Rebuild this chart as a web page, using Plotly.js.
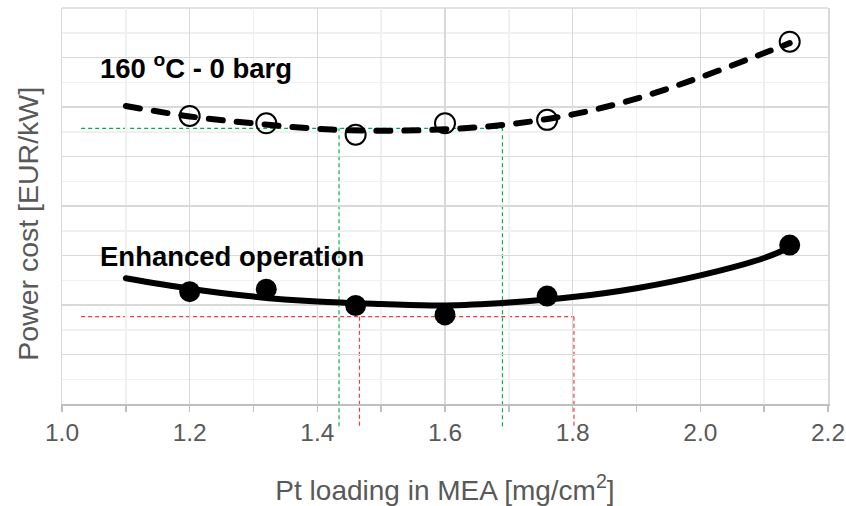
<!DOCTYPE html>
<html>
<head>
<meta charset="utf-8">
<script src="https://cdn.plot.ly/plotly-3.0.1.min.js"></script>
<style>
  html, body { margin: 0; padding: 0; background: #ffffff; }
  #chart { width: 846px; height: 506px; }
</style>
</head>
<body>
<div id="chart"></div>
<script>
// Measured cost points (Pt loading in mg/cm2, power cost in 100 EUR/kW)
const ptLoading    = [1.2, 1.32, 1.46, 1.6, 1.76, 2.14];
const cost160      = [5.82, 5.67, 5.44, 5.67, 5.74, 7.32];
const costEnhanced = [2.27, 2.32, 1.99, 1.80, 2.18, 3.21];

// Trend curves through the measured points
const trendLoading  = [1.1, 1.2, 1.3, 1.4, 1.5, 1.6, 1.7, 1.8, 1.9, 2.0, 2.1, 2.14];
const trend160      = [6.02, 5.81, 5.67, 5.56, 5.52, 5.55, 5.65, 5.85, 6.17, 6.60, 7.09, 7.29];
const trendEnhanced = [2.54, 2.33, 2.17, 2.07, 2.02, 1.99, 2.05, 2.16, 2.34, 2.60, 2.95, 3.16];

// Near-optimum windows: cost level and the loading range it spans
const greenLevel = 5.57;
const greenRange = [1.434, 1.69];
const redLevel   = 1.765;
const redRange   = [1.466, 1.802];
const guideStartX = 1.03;
const guideFloor  = -0.485;   // guides run down past the x axis

const seriesLabels = ['160 <sup>o</sup>C - 0 barg', 'Enhanced operation'];
const yTitle = 'Power cost [EUR/kW]';
const xTitle = 'Pt loading in MEA [mg/cm<sup>2</sup>]';

const yRange = [0, 8];
const toPaper = v => (v - yRange[0]) / (yRange[1] - yRange[0]);

const GREEN = '#00b050';
const RED = '#f03c3c';
const GRID = '#d9d9d9';
const guideLine = c => ({ color: c, width: 1.2, dash: '4px,3px' });

const shapes = [
  // top edge of the plotting area
  { type: 'line', xref: 'paper', yref: 'paper', x0: 0, x1: 1, y0: 1, y1: 1, line: { color: GRID, width: 1.5 }, layer: 'below' },
  { type: 'line', xref: 'x', yref: 'y', x0: guideStartX, x1: greenRange[1], y0: greenLevel, y1: greenLevel, line: guideLine(GREEN), layer: 'below' },
  { type: 'line', xref: 'x', yref: 'y', x0: guideStartX, x1: redRange[1], y0: redLevel, y1: redLevel, line: guideLine(RED), layer: 'below' }
];
greenRange.forEach(v => shapes.push({ type: 'line', xref: 'x', yref: 'paper', x0: v, x1: v,
  y0: toPaper(greenLevel), y1: toPaper(guideFloor), line: guideLine(GREEN), layer: 'below' }));
redRange.forEach(v => shapes.push({ type: 'line', xref: 'x', yref: 'paper', x0: v, x1: v,
  y0: toPaper(redLevel), y1: toPaper(guideFloor), line: guideLine(RED), layer: 'below' }));

const traces = [
  { x: ptLoading, y: cost160, mode: 'markers', type: 'scatter',
    marker: { symbol: 'circle-open', size: 20, color: '#000000', line: { width: 2, color: '#000000' } } },
  { x: ptLoading, y: costEnhanced, mode: 'markers', type: 'scatter',
    marker: { symbol: 'circle', size: 21, color: '#000000' } },
  { x: trendLoading, y: trend160, mode: 'lines', type: 'scatter',
    line: { color: '#000000', width: 6, dash: '14px,14px', shape: 'spline', smoothing: 1 } },
  { x: trendLoading, y: trendEnhanced, mode: 'lines', type: 'scatter',
    line: { color: '#000000', width: 6, shape: 'spline', smoothing: 1 } }
];

const labelFont = { family: 'Liberation Sans, Arial, sans-serif', size: 27.5, color: '#000000', weight: 700 };
const axisGray = '#595959';

const layout = {
  width: 846, height: 506,
  margin: { l: 62, r: 18, t: 8, b: 102 },
  paper_bgcolor: '#ffffff', plot_bgcolor: '#ffffff',
  showlegend: false,
  font: { family: 'Liberation Sans, Arial, sans-serif', color: axisGray },
  xaxis: {
    range: [1.0, 2.2], dtick: 0.2, tick0: 1.0, tickformat: '.1f',
    showgrid: true, gridcolor: GRID, gridwidth: 1.5,
    minor: { dtick: 0.1, showgrid: true, gridcolor: '#f0f0f0', gridwidth: 1.5, ticks: 'outside', ticklen: 6, tickcolor: '#bfbfbf', tickwidth: 1.5 },
    ticks: 'outside', ticklen: 6, tickcolor: '#bfbfbf', tickwidth: 1.5,
    showline: true, linecolor: '#bfbfbf', linewidth: 1.5,
    zeroline: false,
    tickfont: { size: 24.5, color: axisGray },
    title: { text: xTitle, font: { size: 28, color: axisGray }, standoff: 37 }
  },
  yaxis: {
    range: yRange, dtick: 1, tick0: 0,
    showticklabels: false, ticks: '',
    showgrid: true, gridcolor: GRID, gridwidth: 1.5,
    minor: { dtick: 0.5, showgrid: true, gridcolor: '#f0f0f0', gridwidth: 1.5 },
    zeroline: false,
    showline: true, mirror: true, linecolor: GRID, linewidth: 1.5
  },
  shapes: shapes,
  annotations: [
    // vertical axis title, sitting a little below the plot centre
    { x: -0.0444, y: 0.455, xref: 'paper', yref: 'paper', xanchor: 'center', yanchor: 'middle',
      textangle: -90, text: yTitle, showarrow: false, font: { size: 28.5, color: axisGray } },
    { x: 1.057, y: 6.81, xref: 'x', yref: 'y', xanchor: 'left', yanchor: 'middle',
      text: seriesLabels[0], showarrow: false, font: labelFont },
    { x: 1.057, y: 2.97, xref: 'x', yref: 'y', xanchor: 'left', yanchor: 'middle',
      text: seriesLabels[1], showarrow: false, font: labelFont }
  ]
};

Plotly.newPlot('chart', traces, layout, { displayModeBar: false, staticPlot: true }).then(() => {
  // rounded dash ends on the trend curves
  document.querySelectorAll('.scatterlayer .js-line').forEach(p => {
    p.style.strokeLinecap = 'round';
  });
});
</script>
</body>
</html>
